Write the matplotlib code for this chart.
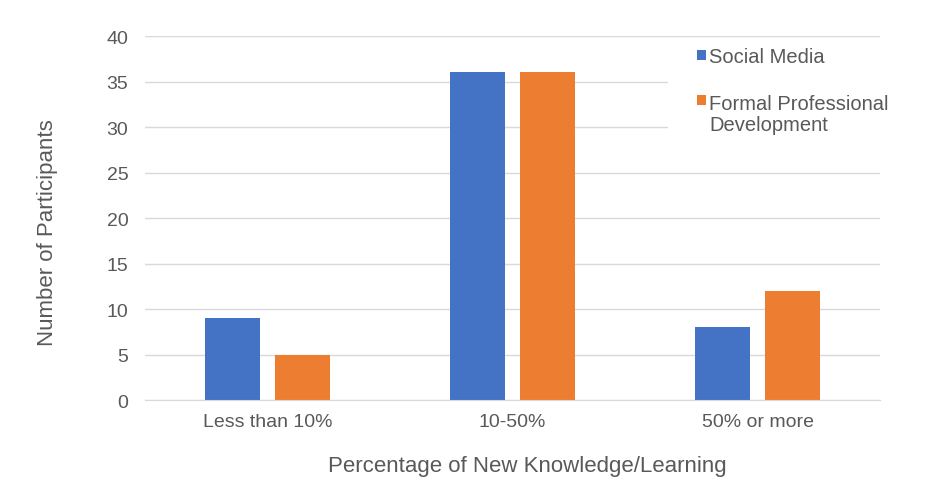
import matplotlib.pyplot as plt
from matplotlib.patches import Rectangle
import numpy as np

categories = ['Less than 10%', '10-50%', '50% or more']
social_media = [9, 36, 8]
formal_pd = [5, 36, 12]
series_labels = ['Social Media', 'Formal Professional\nDevelopment']
yticks = [0, 5, 10, 15, 20, 25, 30, 35, 40]

text_color = '#595959'
grid_color = '#D9D9D9'
colors = ['#4472C4', '#ED7D31']

plt.rcParams['font.family'] = ['Liberation Sans', 'DejaVu Sans']

fig = plt.figure(figsize=(9.39, 4.81), dpi=100)
ax = fig.add_axes([0.1544, 0.1663, 0.7828, 0.7567])

x = np.arange(len(categories))
w = 0.2245
ax.bar(x - 0.143, social_media, w, color=colors[0], label=series_labels[0], zorder=3)
ax.bar(x + 0.143, formal_pd, w, color=colors[1], label=series_labels[1], zorder=3)

ax.set_xlim(-0.5, 2.5)
ax.set_ylim(0, 40)
ax.set_yticks(yticks)
ax.set_xticks(x)
ax.set_xticklabels(categories)
ax.tick_params(axis='both', length=0, labelsize=14, colors=text_color)
ax.tick_params(axis='y', pad=12)
ax.tick_params(axis='x', pad=9)
ax.grid(axis='y', color=grid_color, linewidth=1, zorder=0)
for s in ['top', 'right', 'left']:
    ax.spines[s].set_visible(False)
ax.spines['bottom'].set_color(grid_color)
ax.spines['bottom'].set_zorder(4)

fig.text(48 / 939, 1 - 233 / 481, 'Number of Participants', rotation=90,
         ha='center', va='center', fontsize=16, color=text_color)
fig.text(527 / 939, 1 - 467 / 481, 'Percentage of New Knowledge/Learning',
         ha='center', va='center', fontsize=16, color=text_color)

# legend drawn by hand: white box hides gridlines, square aligned to first line
ax.add_patch(Rectangle((668 / 939, 1 - 140 / 481), 230 / 939, 98 / 481,
                       transform=fig.transFigure, facecolor='white',
                       edgecolor='none', zorder=2, clip_on=False))
W, H = 939, 481
line_h = 23
for lab, col, first in zip(series_labels, colors, [63, 108]):
    n = lab.count('\n')
    ax.add_patch(Rectangle((697 / W, 1 - (first - 2) / H), 9 / W, 10 / H,
                           transform=fig.transFigure, facecolor=col,
                           edgecolor='none', zorder=5, clip_on=False))
    fig.text(709 / W, 1 - (first + n * line_h) / H, lab, ha='left', va='baseline',
             fontsize=14.5, color=text_color, linespacing=1.15)

fig.savefig('out.png', dpi=100, facecolor='white')
